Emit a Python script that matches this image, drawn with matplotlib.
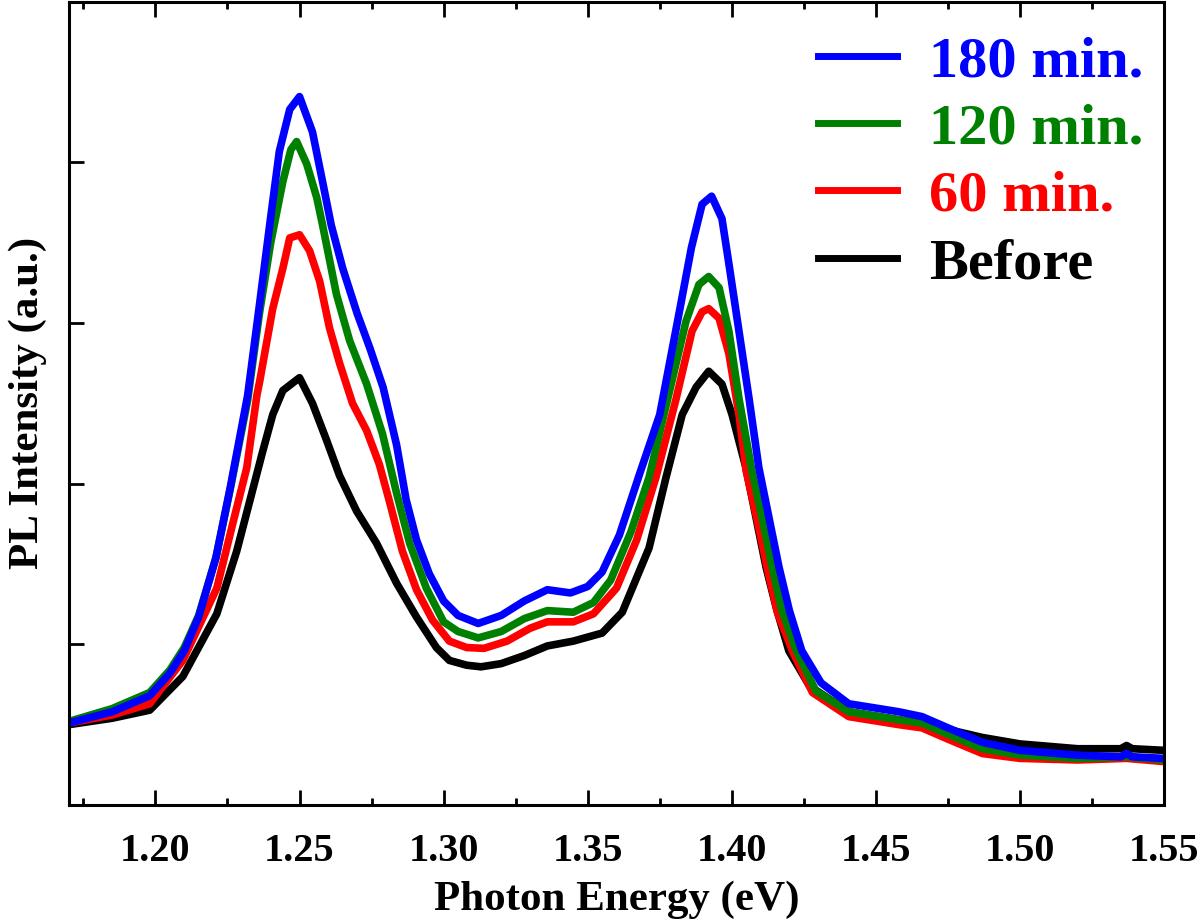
#!/usr/bin/env python3

import matplotlib
matplotlib.use('Agg')
import matplotlib.pyplot as plt
from matplotlib.ticker import MultipleLocator, FixedLocator, NullFormatter

# PL spectra, photon energy (eV) vs intensity (a.u.)
x_180 = [1.170, 1.185, 1.198, 1.205, 1.210, 1.215, 1.221, 1.226, 1.232, 1.236,
         1.240, 1.243, 1.2466, 1.250, 1.2545, 1.258, 1.261, 1.265, 1.270, 1.2745,
         1.279, 1.2837, 1.287, 1.2906, 1.295, 1.300, 1.305, 1.312, 1.320, 1.328,
         1.336, 1.344, 1.350, 1.355, 1.361, 1.368, 1.375, 1.3817, 1.386, 1.3897,
         1.393, 1.3966, 1.399, 1.4025, 1.406, 1.4094, 1.4129, 1.4164, 1.420, 1.4243,
         1.431, 1.4406, 1.458, 1.466, 1.475, 1.487, 1.500, 1.520, 1.535, 1.537,
         1.539, 1.550]
y_180 = [0.51, 0.58, 0.68, 0.82, 0.96, 1.17, 1.54, 1.98, 2.55, 3.10,
         3.66, 4.07, 4.33, 4.41, 4.19, 3.88, 3.61, 3.34, 3.06, 2.84,
         2.60, 2.24, 1.90, 1.65, 1.44, 1.27, 1.18, 1.13, 1.18, 1.27,
         1.34, 1.32, 1.36, 1.45, 1.68, 2.06, 2.43, 3.06, 3.47, 3.74,
         3.79, 3.65, 3.37, 2.95, 2.53, 2.10, 1.79, 1.48, 1.21, 0.96,
         0.76, 0.63, 0.58, 0.55, 0.48, 0.39, 0.34, 0.31, 0.30, 0.32,
         0.30, 0.29]

x_120 = [1.170, 1.185, 1.198, 1.205, 1.210, 1.215, 1.221, 1.226, 1.232, 1.236,
         1.240, 1.2442, 1.247, 1.249, 1.2525, 1.256, 1.258, 1.2628, 1.2674, 1.2733,
         1.2788, 1.2837, 1.2882, 1.294, 1.300, 1.305, 1.312, 1.320, 1.328, 1.336,
         1.345, 1.352, 1.358, 1.365, 1.3713, 1.3782, 1.3841, 1.3886, 1.392, 1.3956,
         1.399, 1.4025, 1.407, 1.4105, 1.414, 1.4174, 1.4224, 1.4292, 1.4406, 1.458,
         1.466, 1.475, 1.487, 1.500, 1.520, 1.537, 1.550]
y_120 = [0.52, 0.60, 0.70, 0.84, 0.98, 1.18, 1.54, 1.97, 2.52, 3.05,
         3.50, 3.88, 4.08, 4.13, 3.99, 3.78, 3.61, 3.18, 2.89, 2.62,
         2.31, 1.94, 1.63, 1.35, 1.14, 1.08, 1.04, 1.08, 1.16, 1.21,
         1.20, 1.26, 1.40, 1.70, 2.04, 2.56, 3.01, 3.24, 3.29, 3.22,
         2.95, 2.53, 2.08, 1.79, 1.48, 1.21, 0.96, 0.71, 0.58, 0.53,
         0.51, 0.44, 0.35, 0.31, 0.29, 0.30, 0.28]

x_60 = [1.170, 1.185, 1.198, 1.2095, 1.2213, 1.2268, 1.2317, 1.2352, 1.2362, 1.2407,
        1.2442, 1.2466, 1.250, 1.2535, 1.257, 1.2604, 1.2639, 1.2684, 1.2733, 1.2777,
        1.2812, 1.2857, 1.2906, 1.2962, 1.302, 1.308, 1.314, 1.322, 1.330, 1.336,
        1.345, 1.352, 1.360, 1.367, 1.3737, 1.3807, 1.3862, 1.3897, 1.392, 1.3956,
        1.399, 1.4025, 1.405, 1.409, 1.4125, 1.416, 1.4215, 1.428, 1.4406, 1.458,
        1.466, 1.475, 1.487, 1.500, 1.520, 1.537, 1.550]
y_60 = [0.51, 0.56, 0.63, 0.90, 1.35, 1.75, 2.10, 2.55, 2.64, 3.09,
        3.34, 3.53, 3.55, 3.45, 3.26, 2.97, 2.75, 2.50, 2.33, 2.12,
        1.89, 1.58, 1.34, 1.15, 1.02, 0.98, 0.975, 1.02, 1.10, 1.14,
        1.14, 1.19, 1.35, 1.65, 2.04, 2.53, 2.95, 3.07, 3.09, 3.03,
        2.81, 2.43, 2.08, 1.76, 1.46, 1.19, 0.94, 0.70, 0.55, 0.50,
        0.48, 0.41, 0.32, 0.29, 0.28, 0.29, 0.27]

x_before = [1.170, 1.185, 1.198, 1.2095, 1.2213, 1.2282, 1.2327, 1.2372, 1.2407, 1.2442,
            1.250, 1.2545, 1.2594, 1.2639, 1.2698, 1.2767, 1.2837, 1.2906, 1.2975, 1.302,
            1.308, 1.313, 1.320, 1.328, 1.336, 1.345, 1.355, 1.362, 1.3713, 1.3772,
            1.3828, 1.3876, 1.392, 1.3966, 1.4001, 1.4049, 1.4084, 1.4119, 1.4154, 1.4198,
            1.427, 1.4406, 1.458, 1.466, 1.475, 1.487, 1.500, 1.520, 1.535, 1.537,
            1.539, 1.550]
y_before = [0.50, 0.54, 0.59, 0.80, 1.19, 1.58, 1.89, 2.20, 2.43, 2.58,
            2.66, 2.50, 2.27, 2.05, 1.83, 1.63, 1.38, 1.17, 0.98, 0.90,
            0.87, 0.86, 0.88, 0.93, 0.99, 1.02, 1.07, 1.20, 1.60, 2.04,
            2.43, 2.60, 2.70, 2.62, 2.43, 2.10, 1.79, 1.48, 1.23, 0.96,
            0.74, 0.58, 0.53, 0.51, 0.47, 0.42, 0.38, 0.35, 0.35, 0.37,
            0.35, 0.34]

x_ticks = [1.20, 1.25, 1.30, 1.35, 1.40, 1.45, 1.50, 1.55]
y_ticks = [1, 2, 3, 4]

plt.rcParams['font.family'] = ['Liberation Serif', 'DejaVu Serif']
plt.rcParams['font.weight'] = 'bold'

fig = plt.figure(figsize=(12, 9.21), dpi=100)
ax = fig.add_axes([0.0575, 0.126, 0.9125, 0.872])

lw = 5.5
ax.plot(x_before, y_before, color='black', lw=lw, label='Before')
ax.plot(x_60, y_60, color='red', lw=lw, label='60 min.')
ax.plot(x_120, y_120, color='green', lw=lw, label='120 min.')
ax.plot(x_180, y_180, color='blue', lw=lw, label='180 min.')

ax.set_xlim(1.17, 1.55)
ax.set_ylim(0, 5)

ax.xaxis.set_major_locator(FixedLocator(x_ticks))
ax.xaxis.set_minor_locator(MultipleLocator(0.025))
ax.set_xticklabels(['%.2f' % v for v in x_ticks])
ax.yaxis.set_major_locator(FixedLocator(y_ticks))
ax.yaxis.set_major_formatter(NullFormatter())

ax.tick_params(axis='x', which='both', direction='in', top=True, labelsize=29, pad=20, width=2)
ax.tick_params(axis='x', which='major', length=11)
ax.tick_params(axis='x', which='minor', length=5)
ax.tick_params(axis='y', which='major', direction='in', length=11, width=2, right=False)

for sp in ax.spines.values():
    sp.set_linewidth(2.2)

ax.set_xlabel('Photon Energy (eV)', fontsize=31, fontweight='bold', labelpad=8)
ax.set_ylabel('PL Intensity (a.u.)', fontsize=31, fontweight='bold', labelpad=12)

handles, labels = ax.get_legend_handles_labels()
leg = ax.legend(handles[::-1], labels[::-1], loc='upper right', bbox_to_anchor=(1.013, 1.002),
                frameon=False, fontsize=42, handlelength=1.35, handletextpad=0.55,
                labelspacing=0.25, borderaxespad=0.2, labelcolor='linecolor')
for line in leg.get_lines():
    line.set_linewidth(5)

fig.savefig('out.png', dpi=100)
